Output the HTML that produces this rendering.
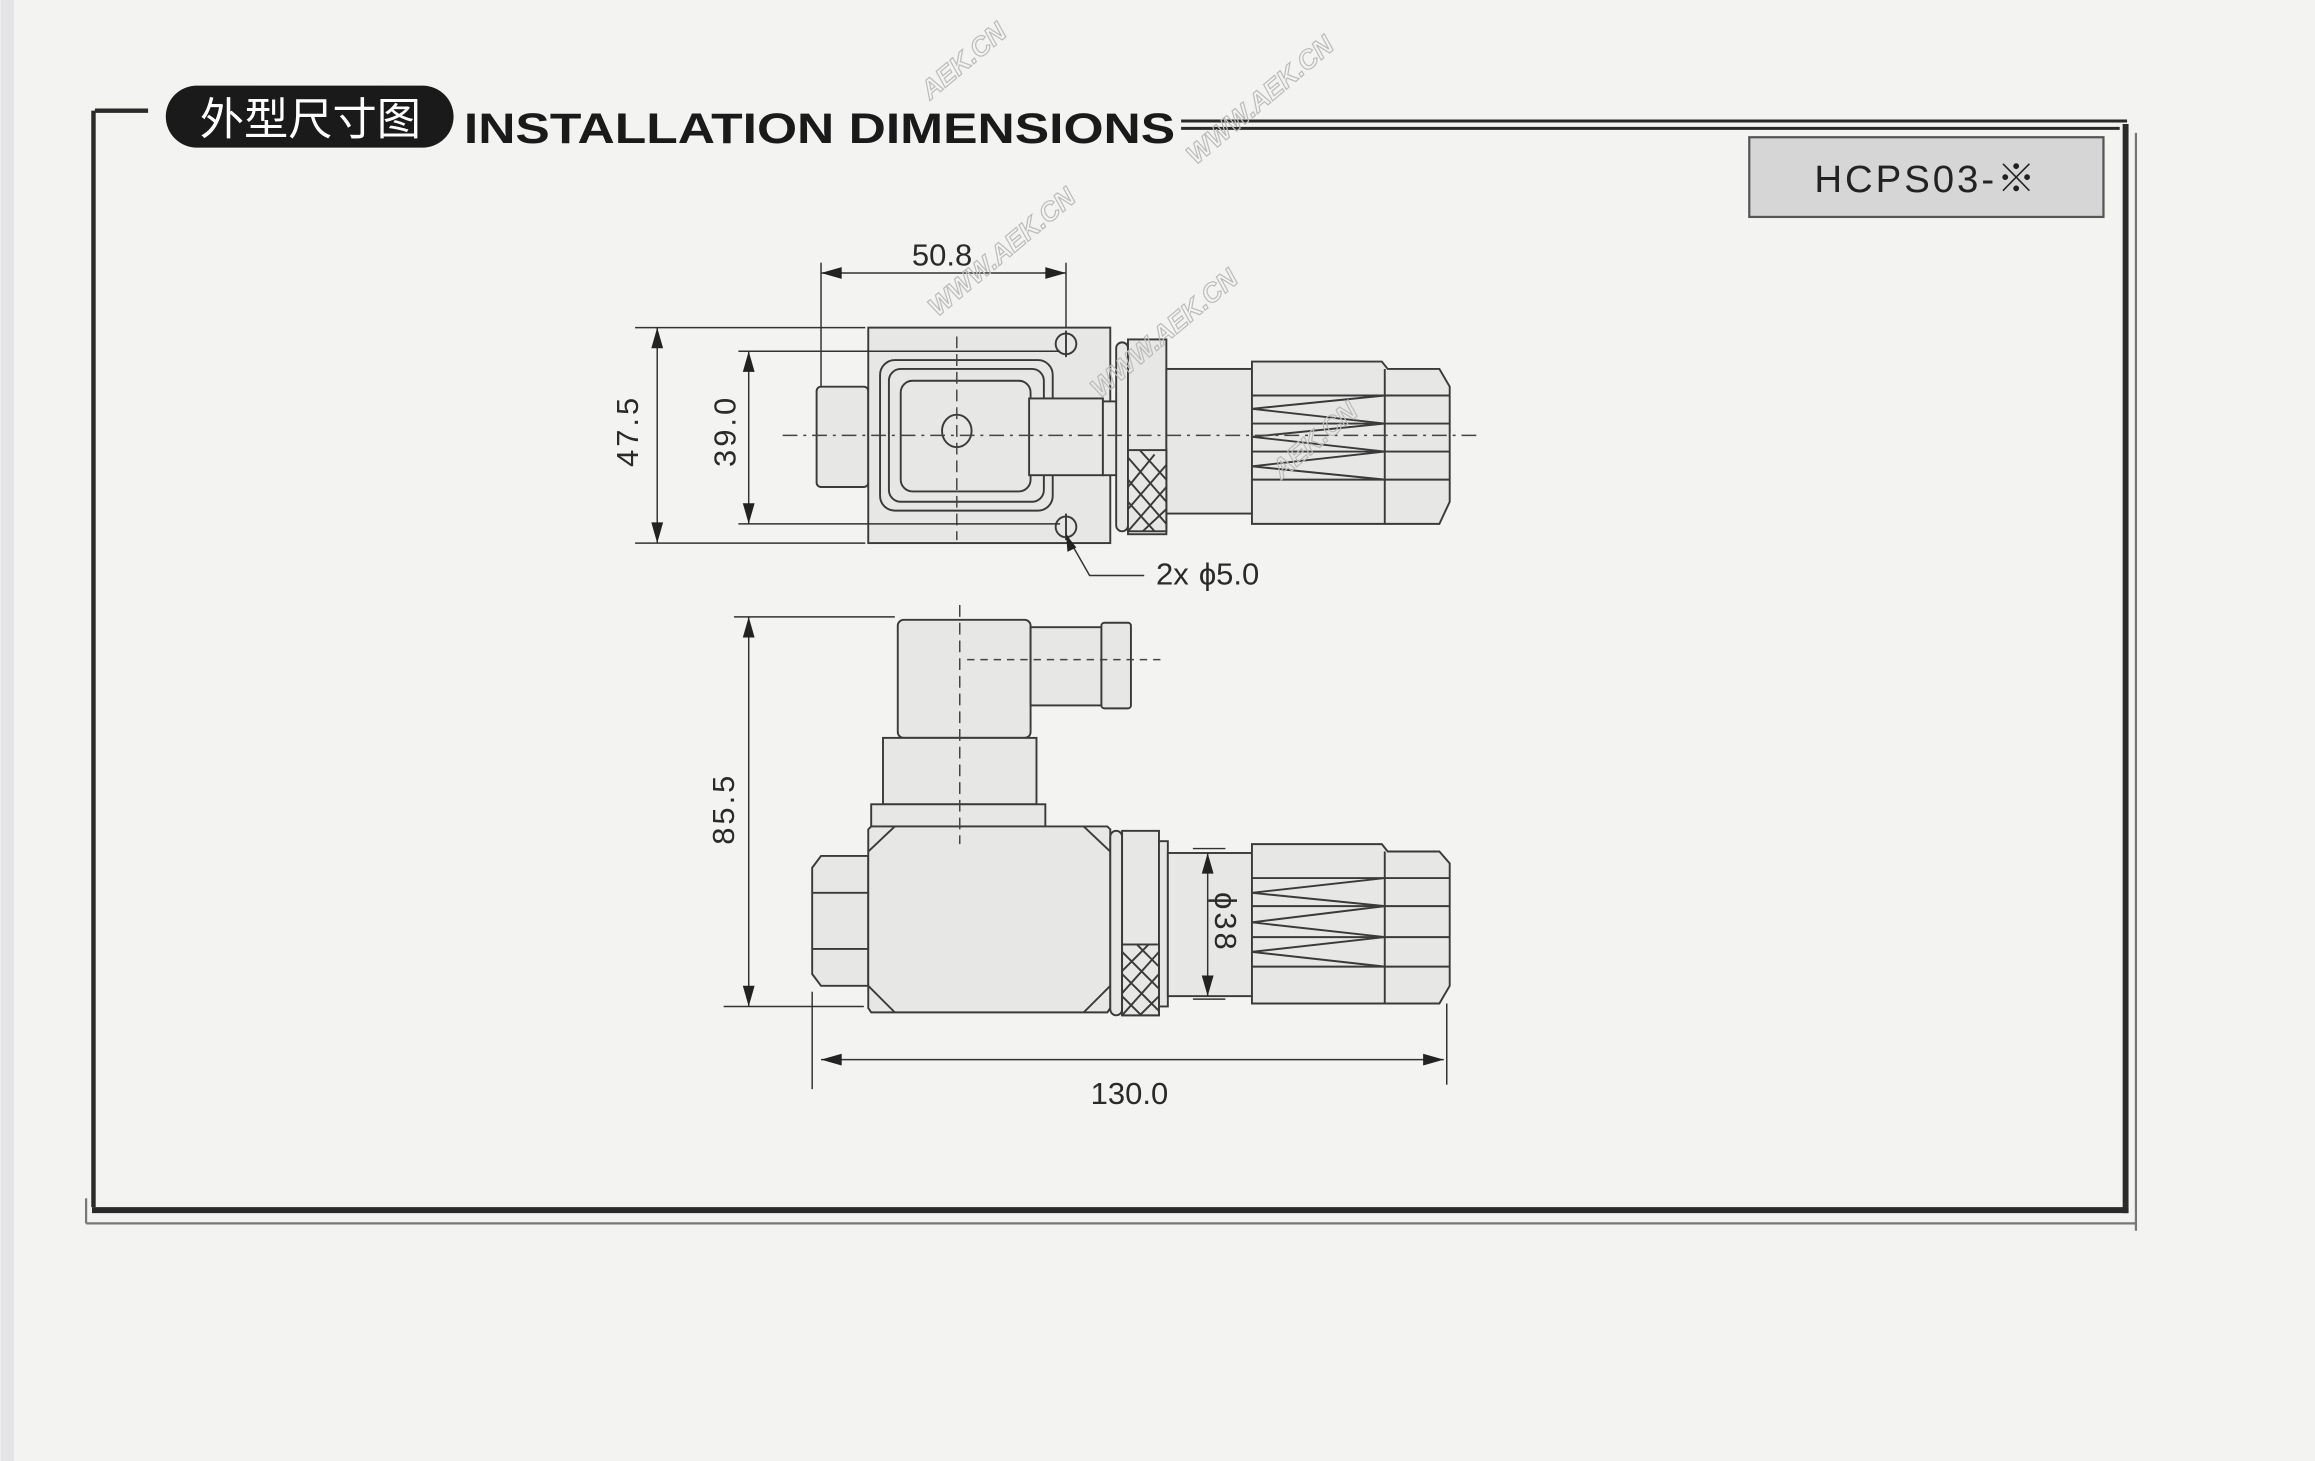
<!DOCTYPE html>
<html><head><meta charset="utf-8"><style>
html,body{margin:0;padding:0;background:#f3f3f1;}
svg{display:block}
</style></head><body>
<svg width="2315" height="1461" viewBox="0 0 1568 990" xmlns="http://www.w3.org/2000/svg">
<rect width="1568" height="990" fill="#f3f3f1"/>
<rect x="0" y="0" width="9" height="990" fill="#e4e4e6"/>
<!-- frame -->
<g stroke="#2a2a2a" fill="none">
<line x1="64" y1="75" x2="100" y2="75" stroke-width="3"/>
<line x1="63" y1="75" x2="63" y2="818" stroke-width="3"/>
<line x1="62" y1="820" x2="1442" y2="820" stroke-width="4"/>
<line x1="800" y1="82" x2="1441" y2="82" stroke-width="2"/>
<line x1="800" y1="87" x2="1436" y2="87" stroke-width="2"/>
<line x1="1440" y1="84" x2="1440" y2="822" stroke-width="4"/>
<line x1="1447" y1="90" x2="1447" y2="834" stroke-width="1.5" stroke="#777"/>
<line x1="58" y1="829" x2="1447" y2="829" stroke-width="1.5" stroke="#777"/>
<line x1="58" y1="812" x2="58" y2="829" stroke-width="1.5" stroke="#777"/>
</g>
<rect x="112" y="58" width="195" height="42" rx="21" fill="#1a1a1a"/>
<text x="210" y="91" text-anchor="middle" font-family="'Liberation Sans','Noto Sans CJK SC',sans-serif" font-size="30" fill="#fff">外型尺寸图</text>
<text x="314" y="97" font-family="'Liberation Sans',sans-serif" font-weight="bold" font-size="29" fill="#1a1a1a" textLength="482" lengthAdjust="spacingAndGlyphs">INSTALLATION DIMENSIONS</text>
<rect x="1185" y="93" width="240" height="54" fill="#d6d6d6" stroke="#555" stroke-width="1.5"/>
<text x="1305" y="130" text-anchor="middle" font-family="'Liberation Sans','Noto Sans CJK SC',sans-serif" font-size="26" fill="#222" letter-spacing="2">HCPS03-※</text>

<g stroke="#3a3a3a" stroke-width="1.3" fill="#e7e7e5">
<!-- TOP VIEW -->
<rect x="553" y="262" width="35" height="68" rx="3"/>
<rect x="588" y="222" width="164" height="146"/>
<rect x="596" y="244" width="117" height="102" rx="10"/>
<rect x="602" y="250" width="105" height="90" rx="8"/>
<rect x="610" y="258" width="88" height="75" rx="8"/>
<ellipse cx="648" cy="292" rx="10" ry="11"/>
<rect x="697" y="270" width="50" height="52"/>
<rect x="747" y="272" width="17" height="50"/>
<rect x="756" y="232" width="8" height="128" rx="4"/>
<rect x="764" y="230" width="26" height="132"/>
<rect x="790" y="250" width="58" height="98"/>
<path d="M848 245 H936 L940 250 H975 L982 262 V340 L975 355 H848 Z"/>
<line x1="938" y1="250" x2="938" y2="355"/>
<line x1="848" y1="268" x2="982" y2="268"/>
<line x1="848" y1="287" x2="982" y2="287"/>
<line x1="848" y1="306" x2="982" y2="306"/>
<line x1="848" y1="325" x2="982" y2="325"/>
<path d="M848 277 L938 268 M848 277 L938 287 M848 296 L938 287 M848 296 L938 306 M848 316 L938 306 M848 316 L938 325" fill="none"/>
<circle cx="722" cy="233" r="7" fill="none"/>
<circle cx="722" cy="357" r="7" fill="none"/>
<line x1="722" y1="224" x2="722" y2="242"/>
<line x1="722" y1="348" x2="722" y2="366"/>
<rect x="764" y="305" width="26" height="55"/>
<path d="M764 310 L790 340 M764 325 L790 355 M764 340 L782 360 M772 305 L790 325 M764 360 L790 330 M764 345 L790 315 M764 330 L782 308 M774 360 L790 345" fill="none"/>
<!-- SIDE VIEW -->
<rect x="608" y="420" width="90" height="80" rx="4"/>
<rect x="698" y="425" width="48" height="53"/>
<rect x="746" y="422" width="20" height="58" rx="2"/>
<rect x="598" y="500" width="104" height="45"/>
<rect x="590" y="545" width="118" height="15"/>
<path d="M550 588 L556 580 H588 V668 H556 L550 660 Z"/>
<line x1="550" y1="605" x2="588" y2="605"/>
<line x1="550" y1="643" x2="588" y2="643"/>
<path d="M590 560 H750 L752 562 V683 L750 686 H590 L588 683 V562 Z"/>
<path d="M588 577 L606 560 M734 560 L752 577 M588 668 L606 686 M734 686 L752 668" fill="none"/>
<rect x="752" y="563" width="8" height="125" rx="4"/>
<rect x="760" y="563" width="25" height="125"/>
<rect x="785" y="570" width="6" height="112"/>
<rect x="791" y="578" width="57" height="97"/>
<path d="M848 572 H936 L940 577 H975 L982 585 V668 L975 680 H848 Z"/>
<line x1="938" y1="577" x2="938" y2="680"/>
<line x1="848" y1="595" x2="982" y2="595"/>
<line x1="848" y1="614" x2="982" y2="614"/>
<line x1="848" y1="635" x2="982" y2="635"/>
<line x1="848" y1="655" x2="982" y2="655"/>
<path d="M848 605 L938 595 M848 605 L938 614 M848 625 L938 614 M848 625 L938 635 M848 645 L938 635 M848 645 L938 655" fill="none"/>
<rect x="760" y="640" width="25" height="48"/>
<path d="M760 645 L785 670 M760 660 L785 685 M760 675 L773 688 M770 640 L785 655 M760 688 L785 660 M760 673 L785 645 M760 658 L778 640 M772 688 L785 675" fill="none"/>
</g>

<!-- center lines -->
<g stroke="#444" stroke-width="1" fill="none">
<line x1="530" y1="295" x2="1000" y2="295" stroke-dasharray="10 4 2 4"/>
<line x1="648" y1="228" x2="648" y2="366" stroke-dasharray="8 4"/>
<line x1="650" y1="410" x2="650" y2="572" stroke-dasharray="8 4"/>
<line x1="655" y1="447" x2="790" y2="447" stroke-dasharray="5 4"/>
</g>

<!-- dimensions -->
<g stroke="#333" stroke-width="1" fill="none">
<line x1="556" y1="178" x2="556" y2="262"/>
<line x1="722" y1="178" x2="722" y2="222"/>
<line x1="556" y1="185" x2="722" y2="185"/>
<line x1="430" y1="222" x2="586" y2="222"/>
<line x1="430" y1="368" x2="586" y2="368"/>
<line x1="445" y1="222" x2="445" y2="368"/>
<line x1="500" y1="238" x2="718" y2="238"/>
<line x1="500" y1="355" x2="718" y2="355"/>
<line x1="507" y1="238" x2="507" y2="355"/>
<path d="M722 362 L738 390 H775"/>
<line x1="497" y1="418" x2="606" y2="418"/>
<line x1="490" y1="682" x2="585" y2="682"/>
<line x1="507" y1="418" x2="507" y2="682"/>
<line x1="808" y1="575" x2="830" y2="575"/>
<line x1="808" y1="677" x2="830" y2="677"/>
<line x1="818" y1="578" x2="818" y2="675"/>
<line x1="550" y1="672" x2="550" y2="738"/>
<line x1="980" y1="680" x2="980" y2="735"/>
<line x1="556" y1="718" x2="978" y2="718"/>
</g>
<g fill="#222">
<path d="M556 185 l14 -4 v8 Z"/><path d="M722 185 l-14 -4 v8 Z"/>
<path d="M445 222 l-4 14 h8 Z"/><path d="M445 368 l-4 -14 h8 Z"/>
<path d="M507 238 l-4 14 h8 Z"/><path d="M507 355 l-4 -14 h8 Z"/>
<path d="M722 362 l1 12 l6 -3 Z"/>
<path d="M507 418 l-4 14 h8 Z"/><path d="M507 682 l-4 -14 h8 Z"/>
<path d="M818 578 l-4 14 h8 Z"/><path d="M818 675 l-4 -14 h8 Z"/>
<path d="M556 718 l14 -4 v8 Z"/><path d="M978 718 l-14 -4 v8 Z"/>
</g>
<g font-family="'Liberation Sans',sans-serif" font-size="21" fill="#2a2a2a">
<text x="638" y="180" text-anchor="middle">50.8</text>
<text transform="translate(432 292) rotate(-90)" text-anchor="middle" letter-spacing="2">47.5</text>
<text transform="translate(498 292) rotate(-90)" text-anchor="middle" letter-spacing="2">39.0</text>
<text x="783" y="396">2x</text><text x="812" y="396">ϕ5.0</text>
<text transform="translate(497 548) rotate(-90)" text-anchor="middle" letter-spacing="2">85.5</text>
<text transform="translate(823 625) rotate(90)" text-anchor="middle" letter-spacing="2">ϕ38</text>
<text x="765" y="748" text-anchor="middle">130.0</text>
</g>
<!-- watermarks -->
<g font-family="'Liberation Sans',sans-serif" font-weight="bold" font-style="italic" font-size="18" fill="none" stroke="#bbb" stroke-width="0.8">
<text transform="translate(630 68) rotate(-40)">AEK.CN</text>
<text transform="translate(810 112) rotate(-40)">WWW.AEK.CN</text>
<text transform="translate(635 215) rotate(-40)">WWW.AEK.CN</text>
<text transform="translate(745 270) rotate(-40)">WWW.AEK.CN</text>
<text transform="translate(868 325) rotate(-40)">AEK.CN</text>
</g>
</svg>
</body></html>
